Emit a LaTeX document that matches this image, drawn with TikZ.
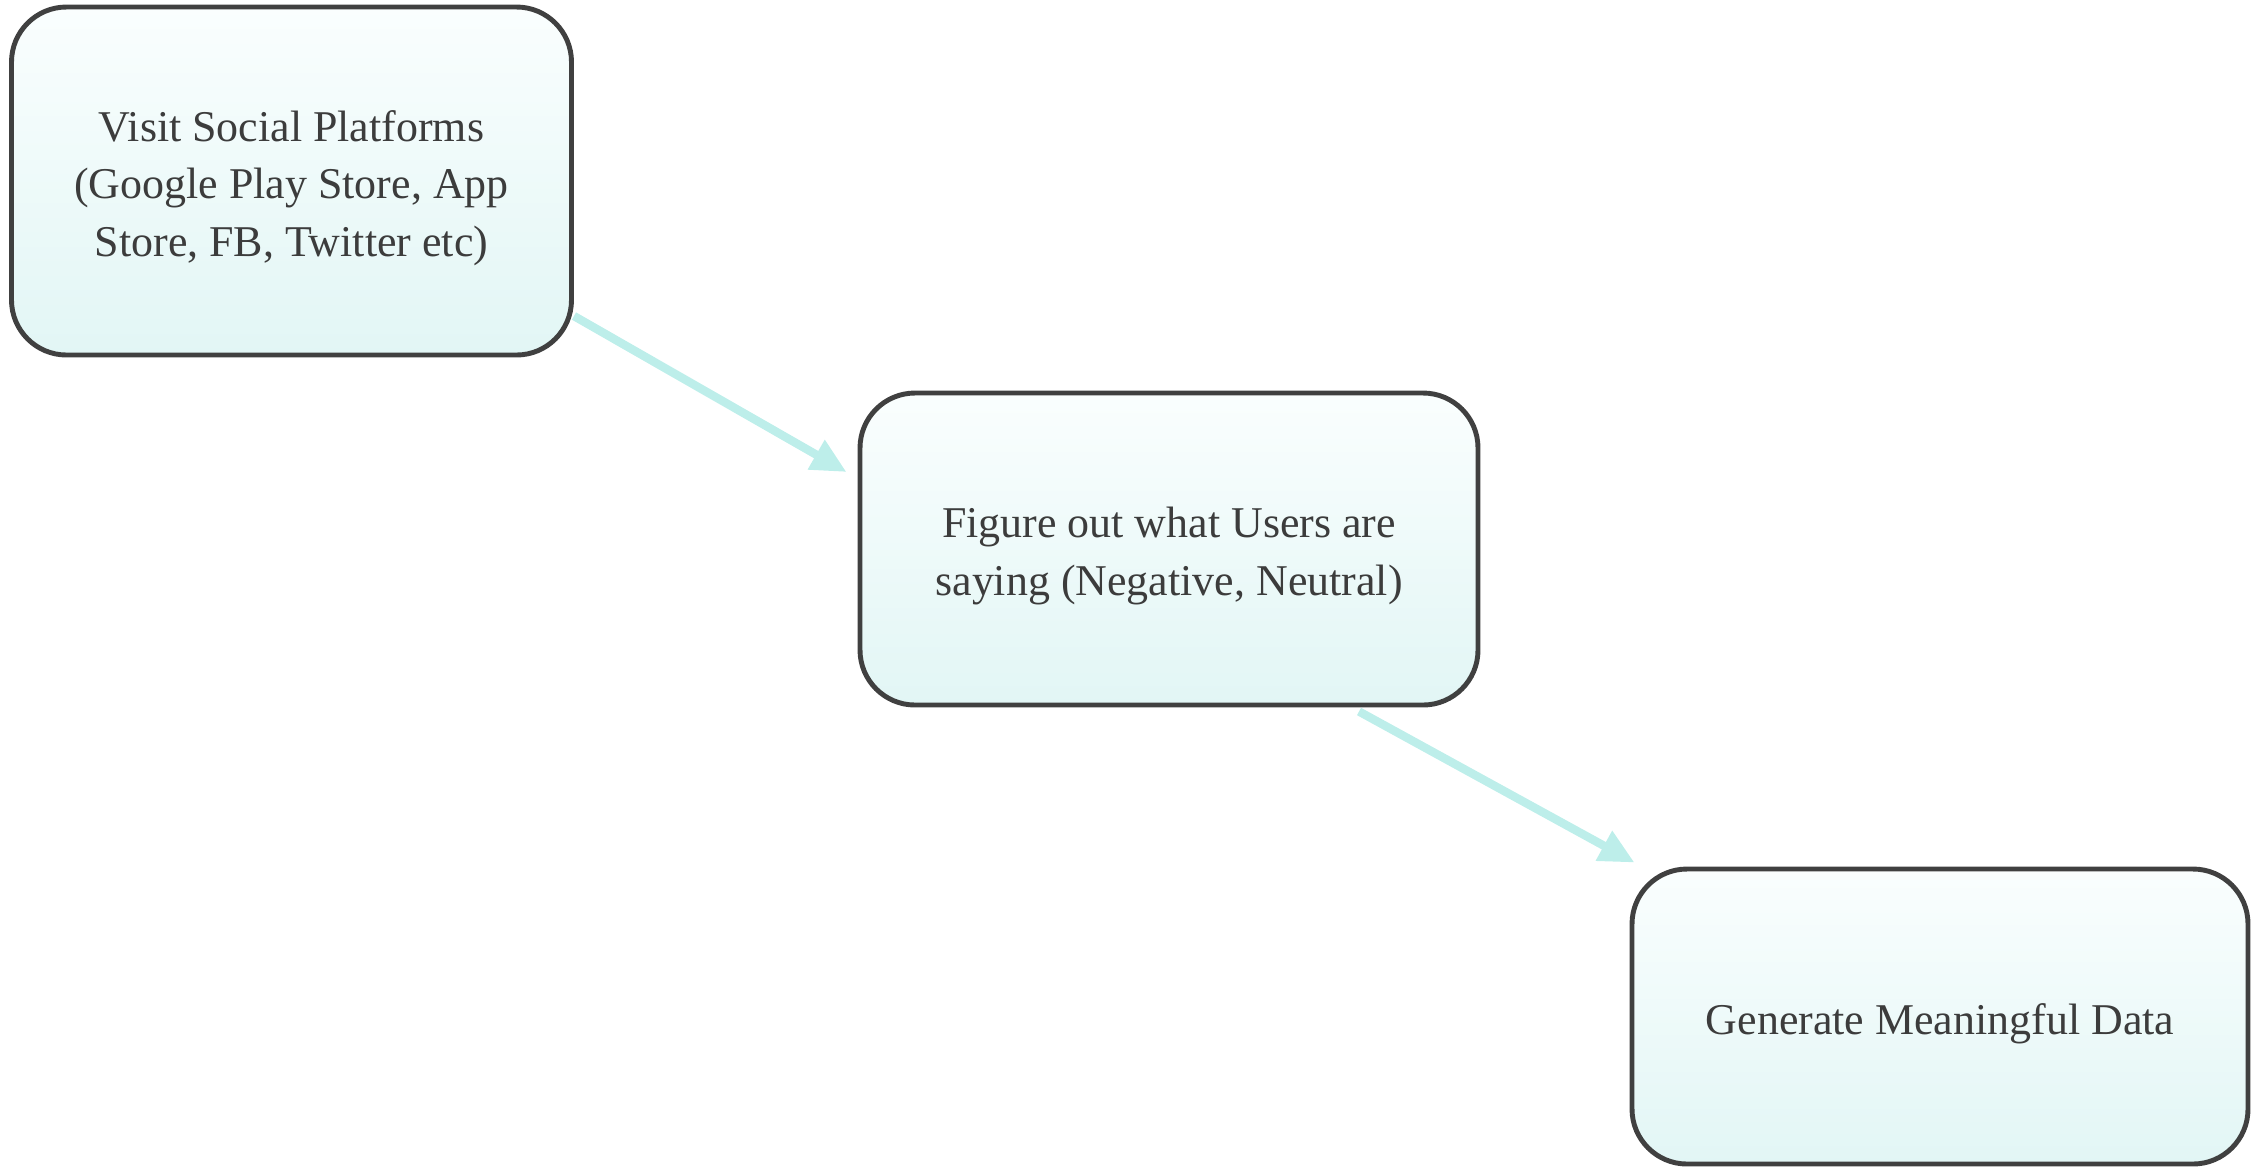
\documentclass[tikz,border=0pt]{standalone}
\usepackage{fontspec}
\setmainfont{Liberation Serif}
\usetikzlibrary{arrows.meta,calc}
\definecolor{boxtop}{RGB}{250,254,254}
\definecolor{boxbot}{RGB}{226,246,245}
\definecolor{boxline}{RGB}{64,64,64}
\definecolor{arrowcol}{RGB}{189,238,234}
\definecolor{txt}{RGB}{60,60,60}
\newcommand\toppad{\raisebox{0pt}[\dimexpr0.70em+4pt\relax]{}}
\begin{document}
\begin{tikzpicture}[
  flowbox/.style={draw=boxline, line width=1.4pt, rounded corners=0.55cm,
    top color=boxtop, bottom color=boxbot, align=center, text=txt,
    font=\fontsize{12.5pt}{16.4pt}\selectfont, inner sep=0pt},
  flowarrow/.style={draw=arrowcol, line width=2.4pt,
    -{Triangle[length=0.35cm,width=0.32cm,fill=arrowcol]}}
]
\useasboundingbox (0,0) rectangle (22.55,-11.68);
\node[flowbox, minimum width=5.6cm, minimum height=3.48cm] (b1) at (2.915,-1.81)
  {\toppad Visit Social Platforms\\(Google Play Store, App\\Store, FB, Twitter etc)};
\node[flowbox, minimum width=6.18cm, minimum height=3.12cm] (b2) at (11.69,-5.49)
  {\toppad Figure out what Users are\\saying (Negative, Neutral)};
\node[flowbox, minimum width=6.16cm, minimum height=2.95cm] (b3) at (19.40,-10.165)
  {\toppad Generate Meaningful Data};
\draw[flowarrow] ([yshift=-1.35cm]b1.east) -- ([xshift=-0.11cm,yshift=0.77cm]b2.west);
\draw[flowarrow] ([xshift=1.9cm,yshift=-0.04cm]b2.south) -- ([xshift=0.05cm,yshift=0.04cm]b3.north west);
\end{tikzpicture}
\end{document}
